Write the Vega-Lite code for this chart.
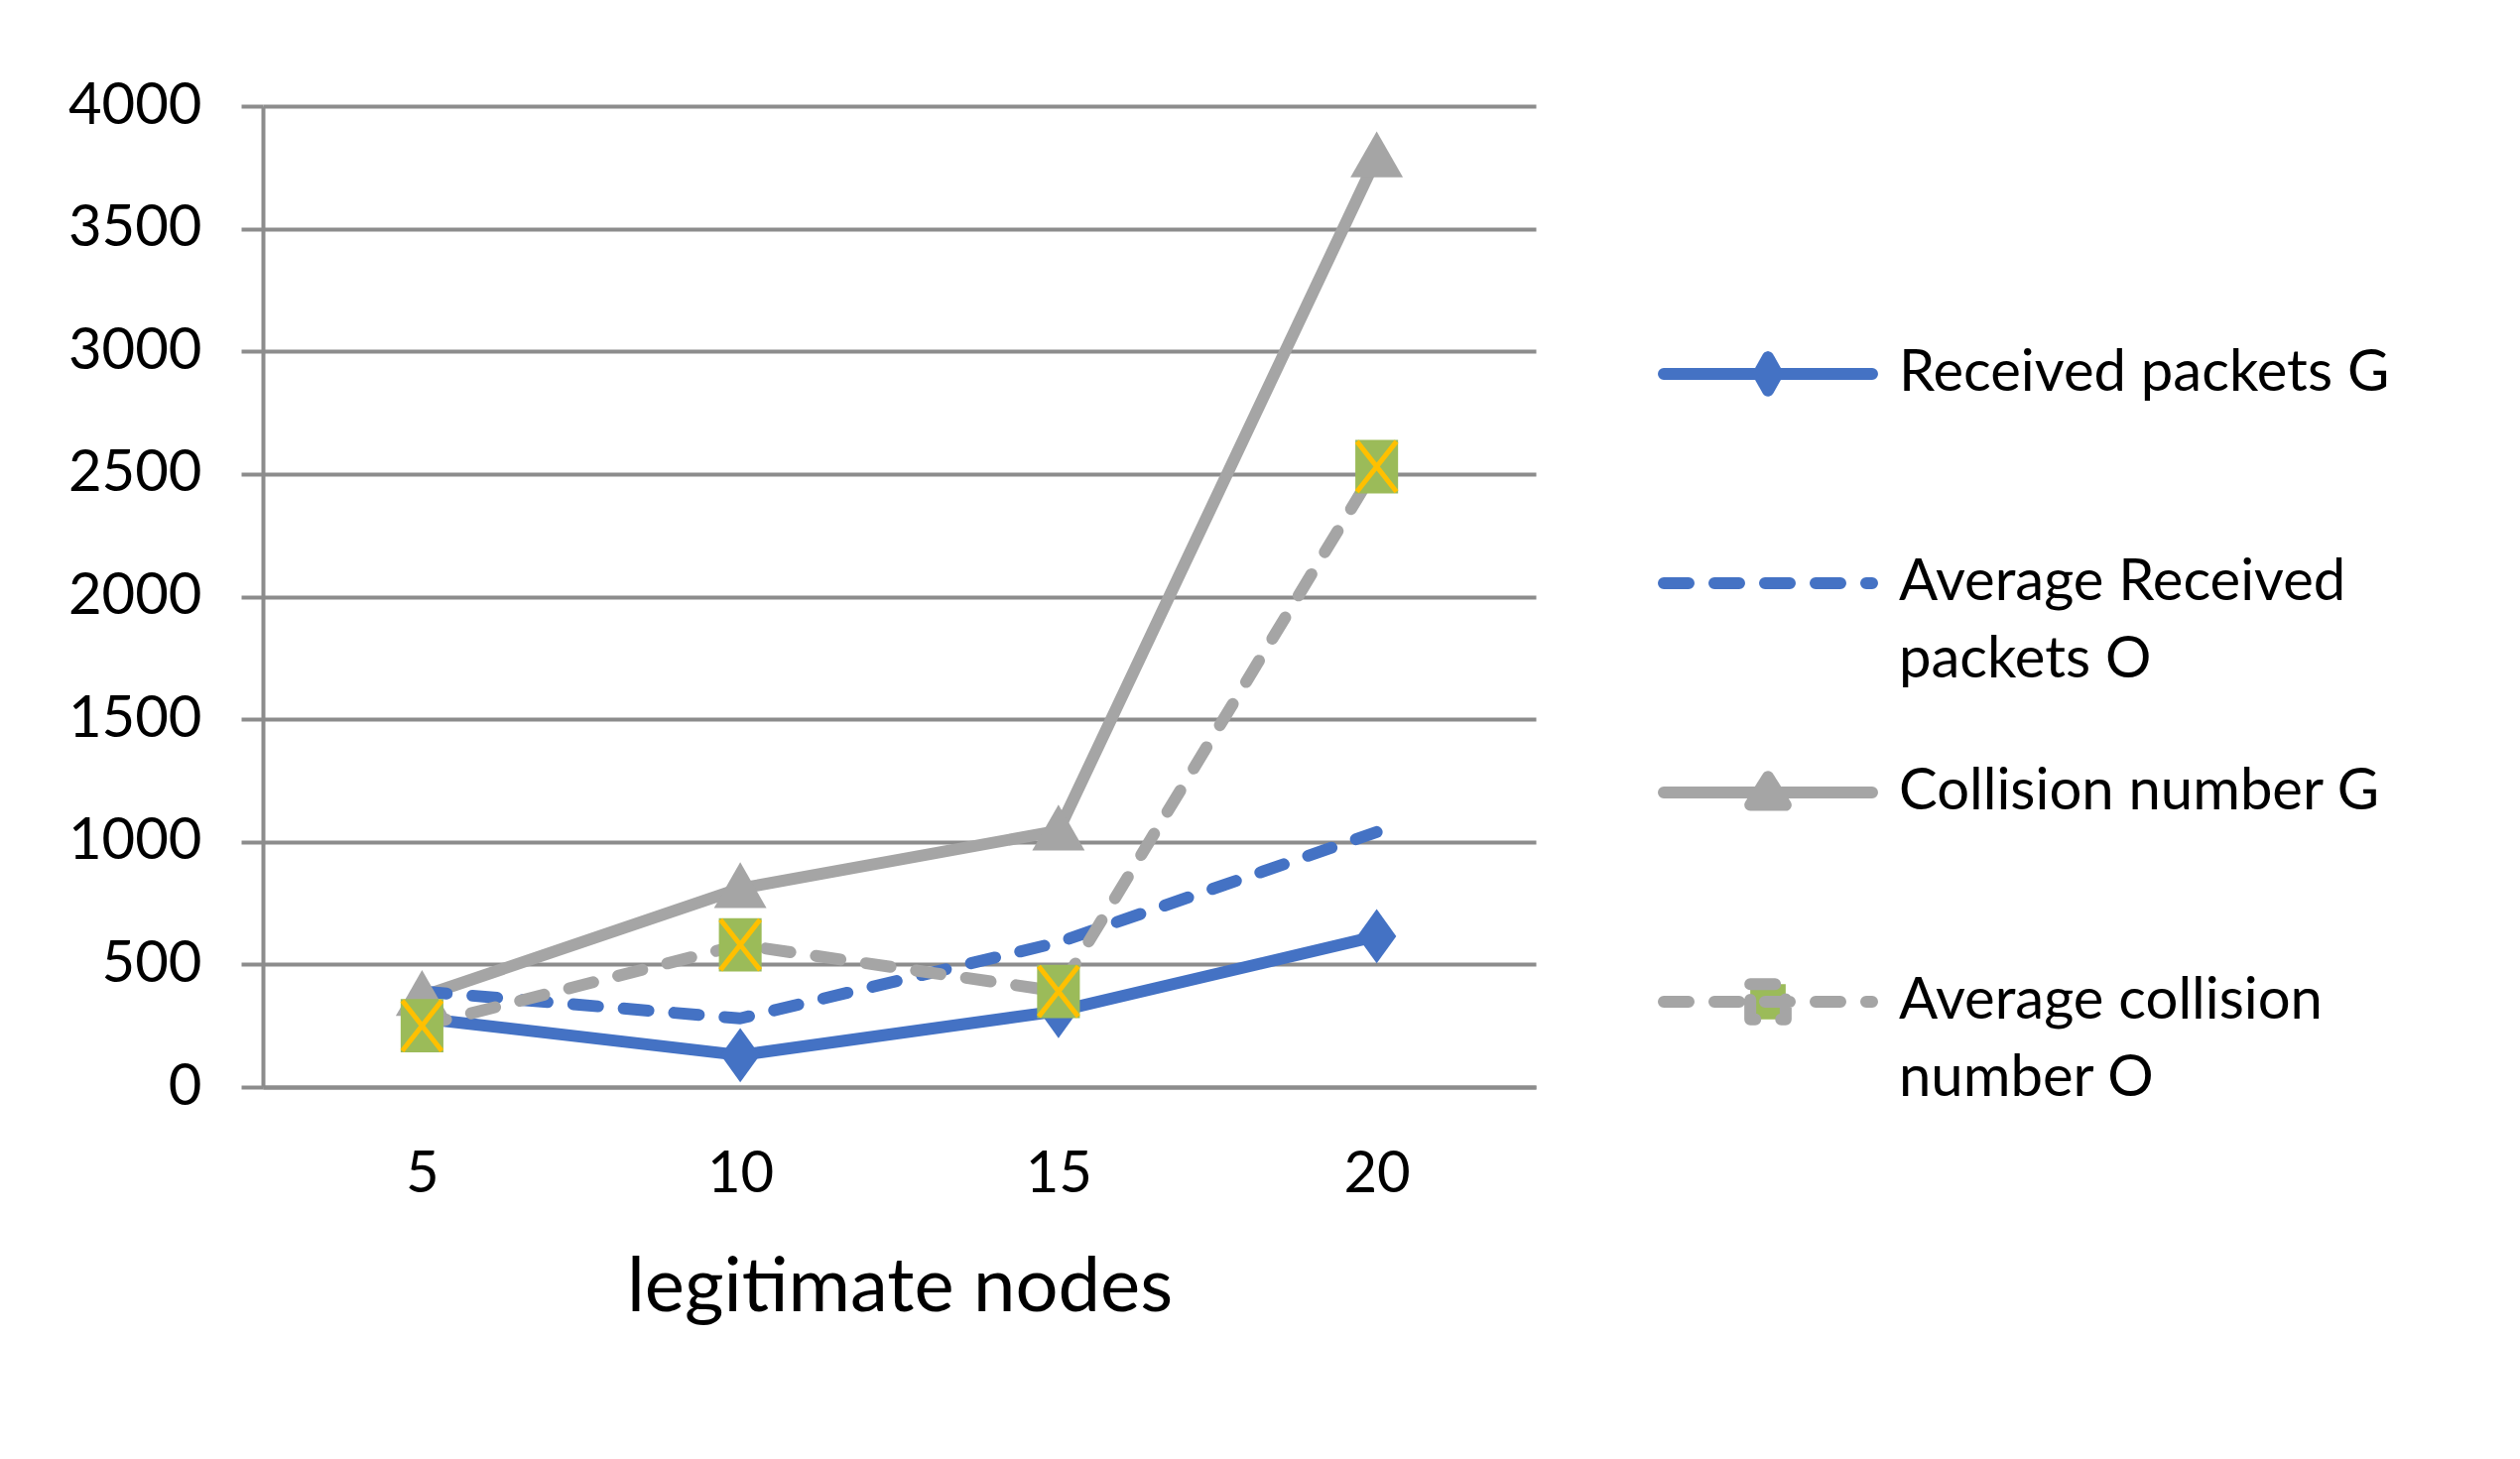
{
  "$schema": "https://vega.github.io/schema/vega-lite/v6.json",
  "width": 1283,
  "height": 989,
  "autosize": "none",
  "padding": {"left": 265, "top": 107, "right": 992, "bottom": 375},
  "background": "white",
  "config": {"view": {"stroke": null}, "font": "Lato"},
  "data": {
    "values": [
      {"nodes": 5, "series": "Received packets G", "value": 280},
      {"nodes": 10, "series": "Received packets G", "value": 130},
      {"nodes": 15, "series": "Received packets G", "value": 310},
      {"nodes": 20, "series": "Received packets G", "value": 615},
      {"nodes": 5, "series": "Average Received packets O", "value": 390},
      {"nodes": 10, "series": "Average Received packets O", "value": 280},
      {"nodes": 15, "series": "Average Received packets O", "value": 590},
      {"nodes": 20, "series": "Average Received packets O", "value": 1040},
      {"nodes": 5, "series": "Collision number G", "value": 370},
      {"nodes": 10, "series": "Collision number G", "value": 810},
      {"nodes": 15, "series": "Collision number G", "value": 1045},
      {"nodes": 20, "series": "Collision number G", "value": 3790},
      {"nodes": 5, "series": "Average collision number O", "value": 250},
      {"nodes": 10, "series": "Average collision number O", "value": 580},
      {"nodes": 15, "series": "Average collision number O", "value": 390},
      {"nodes": 20, "series": "Average collision number O", "value": 2530}
    ]
  },
  "encoding": {
    "x": {
      "field": "nodes",
      "type": "ordinal",
      "scale": {"type": "point", "padding": 0.5},
      "title": "legitimate nodes",
      "axis": {
        "labelAngle": 0,
        "domain": true,
        "domainColor": "#8C8C8C",
        "domainWidth": 4,
        "ticks": false,
        "tickSize": 0,
        "grid": false,
        "labelFont": "Lato",
        "labelFontSize": 58,
        "labelColor": "black",
        "labelPadding": 59,
        "titleFont": "Lato",
        "titleFontSize": 76,
        "titleFontWeight": "normal",
        "titleColor": "black",
        "titlePadding": 48
      }
    },
    "y": {
      "field": "value",
      "type": "quantitative",
      "scale": {"domain": [0, 4000], "nice": false},
      "title": null,
      "axis": {
        "values": [0, 500, 1000, 1500, 2000, 2500, 3000, 3500, 4000],
        "format": "d",
        "domain": true,
        "domainColor": "#8C8C8C",
        "domainWidth": 4,
        "ticks": true,
        "tickColor": "#8C8C8C",
        "tickWidth": 4,
        "tickSize": 22,
        "grid": true,
        "gridColor": "#8C8C8C",
        "gridWidth": 4,
        "labelFont": "Lato",
        "labelFontSize": 58,
        "labelColor": "black",
        "labelPadding": 40
      }
    }
  },
  "layer": [
    {
      "transform": [{"filter": "indexof(datum.series, 'Average') !== 0"}],
      "mark": {"type": "line", "strokeWidth": 12, "strokeCap": "round", "strokeJoin": "round"},
      "encoding": {
        "color": {
          "field": "series",
          "type": "nominal",
          "scale": {
            "domain": ["Received packets G", "Average Received packets O", "Collision number G", "Average collision number O"],
            "range": ["#4472C4", "#4472C4", "#A5A5A5", "#A5A5A5"]
          },
          "legend": {
            "orient": "none",
            "legendX": 1488,
            "legendY": 241,
            "title": null,
            "padding": 0,
            "labelFont": "Lato",
            "labelFontSize": 58,
            "labelColor": "black",
            "labelLimit": 2000,
            "labelOffset": 103,
            "symbolSize": 1764,
            "symbolStrokeWidth": 12,
            "rowPadding": 75,
            "labelExpr": "datum.label === 'Average Received packets O' ? ['Average Received', 'packets O'] : datum.label === 'Average collision number O' ? ['Average collision', 'number O'] : [datum.label, ' ']",
            "encode": {
              "symbols": {
                "update": {
                  "shape": {"signal": "datum.value === 'Received packets G' ? 'M-5,0H5M0,-0.8L0.45,0L0,0.8L-0.45,0Z' : datum.value === 'Collision number G' ? 'M-5,0H5M0,-0.75L0.85,0.6L-0.85,0.6Z' : datum.value === 'Average collision number O' ? 'M-5,0H5M-0.85,-0.85H0.85V0.85H-0.85Z' : 'M-5,0H5'"},
                  "fill": {"signal": "datum.value === 'Average collision number O' ? '#9BBB59' : datum.value === 'Collision number G' ? '#A5A5A5' : '#4472C4'"},
                  "strokeDash": {"signal": "indexof(datum.value, 'Average') === 0 ? [25, 26] : [1, 0]"},
                  "strokeCap": {"value": "round"},
                  "strokeJoin": {"value": "round"},
                  "opacity": {"value": 1}
                }
              },
              "labels": {
                "update": {"lineHeight": {"value": 78}}
              }
            }
          }
        }
      }
    },
    {
      "transform": [{"filter": "indexof(datum.series, 'Average') === 0"}],
      "mark": {"type": "line", "strokeWidth": 12, "strokeCap": "round", "strokeJoin": "round", "strokeDash": [25, 26]},
      "encoding": {
        "color": {"field": "series", "type": "nominal"}
      }
    },
    {
      "transform": [{"filter": "datum.series === 'Received packets G'"}],
      "mark": {"type": "point", "shape": "M0,-1L0.72,0L0,1L-0.72,0Z", "size": 3000, "filled": true, "color": "#4472C4", "opacity": 1}
    },
    {
      "transform": [{"filter": "datum.series === 'Collision number G'"}],
      "mark": {"type": "point", "shape": "M0,-1L1,0.75L-1,0.75Z", "size": 2800, "filled": true, "color": "#A5A5A5", "opacity": 1}
    },
    {
      "transform": [{"filter": "datum.series === 'Average collision number O'"}],
      "mark": {"type": "point", "shape": "M-0.8,-1H0.8V1H-0.8Z", "size": 2900, "filled": true, "color": "#9BBB59", "opacity": 1}
    },
    {
      "transform": [{"filter": "datum.series === 'Average collision number O'"}],
      "mark": {"type": "point", "shape": "M-0.74,-0.94L0.74,0.94M-0.74,0.94L0.74,-0.94", "size": 2900, "filled": false, "color": "#FFC000", "strokeWidth": 5, "opacity": 1}
    }
  ]
}
